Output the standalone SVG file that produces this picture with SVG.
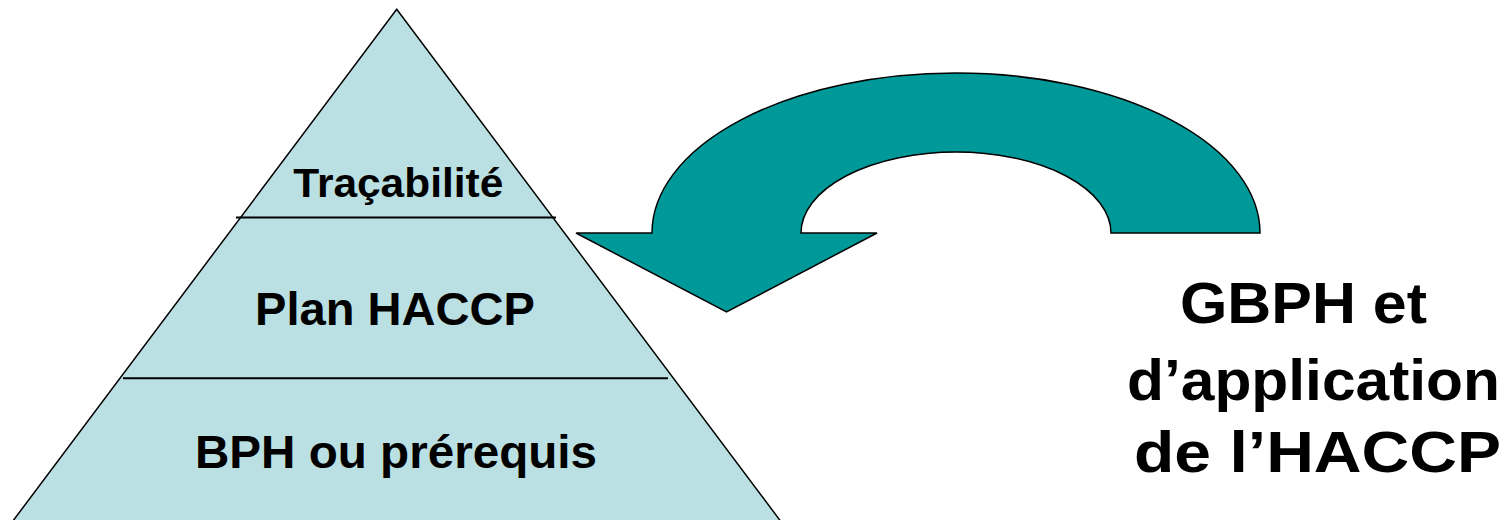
<svg xmlns="http://www.w3.org/2000/svg" width="1508" height="520" viewBox="0 0 1508 520">
  <style>
    .t { font-family: "Liberation Sans", Arial, sans-serif; font-weight: bold; fill: #000; }
    .tri { fill: #BBE0E3; stroke: #000; stroke-width: 1.5; }
    .div { stroke: #000; stroke-width: 2; }
    .arrow { fill: #009999; stroke: #000; stroke-width: 1.5; }
  </style>
  <rect width="1508" height="520" fill="#fff"/>
  <g id="pyramid">
    <polygon class="tri" points="396.7,9.3 782,523 11.4,523"/>
    <line class="div" x1="236" y1="217.5" x2="556" y2="217.5"/>
    <line class="div" x1="123" y1="378.3" x2="668" y2="378.3"/>
  </g>
  <g id="level-top">
    <text class="t" x="293.3" y="196.7" font-size="41" textLength="210" lengthAdjust="spacingAndGlyphs">Traçabilité</text>
  </g>
  <g id="level-middle">
    <text class="t" x="255" y="325" font-size="46.5" textLength="280" lengthAdjust="spacingAndGlyphs">Plan HACCP</text>
  </g>
  <g id="level-bottom">
    <text class="t" x="195" y="467.7" font-size="46" textLength="402" lengthAdjust="spacingAndGlyphs">BPH ou prérequis</text>
  </g>
  <g id="connectors">
    <path class="arrow" d="M 576,233 L 652,233 A 304,160 0 0 1 1260,233 L 1111,233 A 155,81 0 0 0 801,233 L 877,233 L 726.5,312 Z"/>
  </g>
  <g id="label-right">
    <text class="t" x="1180" y="322.7" font-size="58" textLength="247" lengthAdjust="spacingAndGlyphs">GBPH et</text>
    <text class="t" x="1127" y="400" font-size="58" textLength="373" lengthAdjust="spacingAndGlyphs">d’application</text>
    <text class="t" x="1134" y="471.7" font-size="58" textLength="367" lengthAdjust="spacingAndGlyphs">de l’HACCP</text>
  </g>
</svg>
